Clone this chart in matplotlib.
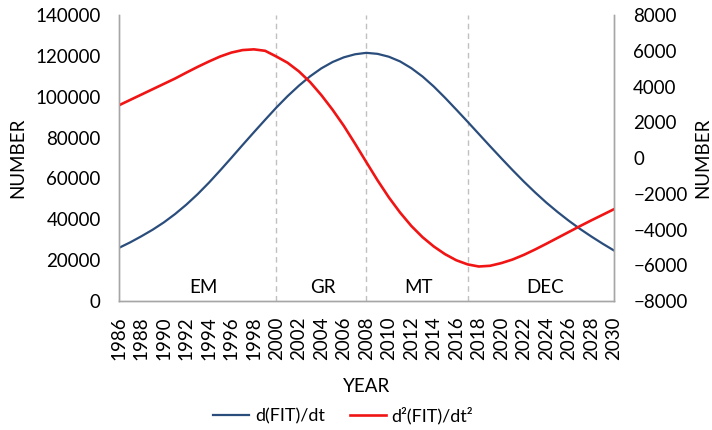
import matplotlib
matplotlib.use("Agg")
import matplotlib.pyplot as plt

years = list(range(1986, 2031))

# d(FIT)/dt, left axis
first_deriv = [
    26000, 28700, 31700, 34900, 38500, 42600, 47200, 52300, 57900, 63900,
    70100, 76400, 82600, 88700, 94700, 100300, 105400, 110000, 113900, 117000,
    119300, 120800, 121500, 121000, 119600, 117300, 114000, 109900, 105000, 99500,
    93700, 87800, 81800, 75800, 69900, 64100, 58500, 53200, 48200, 43600,
    39300, 35300, 31600, 28100, 24800,
]

# d2(FIT)/dt2, right axis
second_deriv = [
    2950, 3250, 3550, 3850, 4150, 4450, 4780, 5100, 5400, 5680,
    5900, 6040, 6080, 6000, 5680, 5330, 4850, 4250, 3520, 2700,
    1800, 800, -230, -1250, -2200, -3050, -3800, -4430, -4950, -5380,
    -5720, -5950, -6070, -6030, -5880, -5680, -5420, -5120, -4800, -4470,
    -4140, -3810, -3490, -3180, -2870,
]

phase_bounds = [2000, 2008, 2017]
phase_names = ["EM", "GR", "MT", "DEC"]
phase_label_x = [1993.5, 2004.1, 2012.6, 2023.9]

plt.rcParams["font.family"] = ["Lato", "DejaVu Sans"]
plt.rcParams["font.size"] = 13.5

blue = "#2a4d7c"
red = "#f01414"
axis_grey = "#a6a6a6"

fig = plt.figure(figsize=(7.12, 4.3), dpi=100)
ax = fig.add_axes([0.167, 0.300, 0.695, 0.665])
ax2 = ax.twinx()

l1, = ax.plot(years, first_deriv, color=blue, lw=1.6, label="d(FIT)/dt")
l2, = ax2.plot(years, second_deriv, color=red, lw=1.9, label="d²(FIT)/dt²")

ax.set_xlim(1986, 2030)
ax.set_ylim(0, 140000)
ax2.set_ylim(-8000, 8000)
ax.set_xticks(list(range(1986, 2031, 2)))
ax.tick_params(axis="x", rotation=90, length=0, pad=11)
ax.tick_params(axis="y", length=0, pad=13)
ax2.tick_params(axis="y", length=0, pad=14)
ax.set_yticks(list(range(0, 140001, 20000)))
ax2.set_yticks(list(range(-8000, 8001, 2000)))

# phase boundaries and names
for b in phase_bounds:
    ax.axvline(b, color="#c0c0c0", lw=1.0, ls=(0, (4, 3)), zorder=0)
for name, xpos in zip(phase_names, phase_label_x):
    ax.text(xpos, 6500, name, ha="center", va="center")

for a in (ax, ax2):
    a.spines["top"].set_visible(False)
    for s in ("left", "right", "bottom"):
        a.spines[s].set_color(axis_grey)
        a.spines[s].set_linewidth(1.0)

ax.set_xlabel("YEAR", labelpad=13)
ax.set_ylabel("NUMBER")
ax2.set_ylabel("NUMBER")
ax.yaxis.set_label_coords(-0.188, 0.5)
ax2.yaxis.set_label_coords(1.162, 0.5)

fig.legend(handles=[l1, l2], loc="center", bbox_to_anchor=(0.482, 0.033),
           ncol=2, frameon=False, handlelength=2.0, columnspacing=1.4,
           handletextpad=0.3, fontsize=13)

fig.savefig("out.png", dpi=100)
